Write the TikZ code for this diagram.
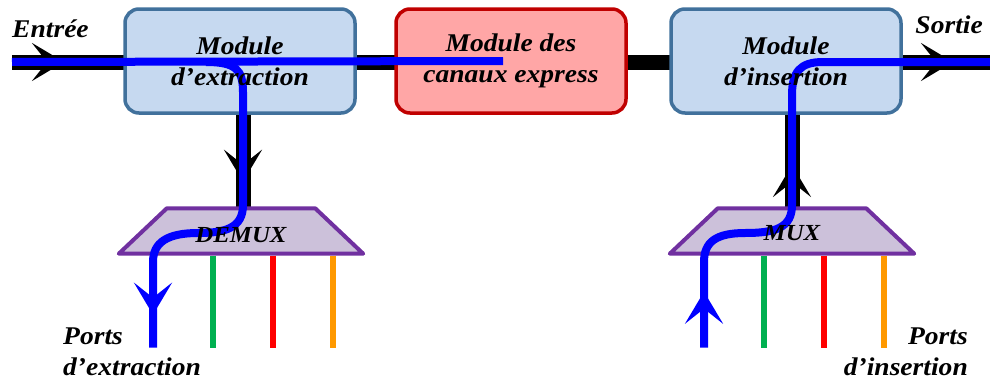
\documentclass[tikz,border=0pt]{standalone}
\usepackage{fontspec}
\setmainfont{Liberation Serif}[FakeStretch=1.08]
\usetikzlibrary{arrows.meta,decorations.markings,calc}
\definecolor{modfill}{HTML}{C6D9F0}
\definecolor{modline}{HTML}{41719C}
\definecolor{expfill}{HTML}{FFA6A6}
\definecolor{expline}{HTML}{C00000}
\definecolor{muxfill}{HTML}{CCC1DA}
\definecolor{muxline}{HTML}{7030A0}
\definecolor{pgreen}{HTML}{00B050}
\definecolor{pred}{HTML}{FF0000}
\definecolor{porange}{HTML}{FF9900}
\tikzset{
  dart/.tip={Stealth[length=32pt,width=38pt,inset=15pt]},
  arrowat/.style={postaction=decorate,decoration={markings,mark=at position #1 with {\arrow{dart}}}},
  module/.style={draw=modline,fill=modfill,line width=3.5pt,rounded corners=14pt,minimum width=230pt,minimum height=104pt},
  express/.style={module,draw=expline,fill=expfill},
  muxbox/.style={minimum width=244pt,minimum height=45pt,inner sep=0pt},
  muxshape/.style={draw=muxline,fill=muxfill,line width=4pt,line join=round},
  txt/.style={font=\fontsize{25.5}{31}\selectfont\bfseries\itshape,align=center,inner sep=0pt},
  smalltxt/.style={txt,font=\fontsize{23}{28}\selectfont\bfseries\itshape},
  fibre/.style={line width=15pt,black},
  lambda/.style={line width=8pt,blue},
  port/.style={line width=6pt}
}
\begin{document}
\begin{tikzpicture}[x=1pt,y=-1pt]
\useasboundingbox (0,0) rectangle (990,380);
% main fibre
\coordinate (in) at (12,62);
\coordinate (out) at (990,62);
\draw[fibre,postaction=decorate,decoration={markings,
  mark=at position 52pt with {\arrow{dart}},
  mark=at position -37pt with {\arrow{dart}}}] (in) -- (out);

% modules
\node[module] (extr) at (240,61) {};
\node[express] (expr) at (511,61) {};
\node[module] (ins) at (786,61) {};

% drop / add fibres
\draw[fibre,arrowat=67pt] (extr.south -| 243,0) -- (243,215);
\draw[fibre,arrowat=50pt] (792,215) -- (ins.south -| 792,0);

% (de)multiplexers
\node[muxbox] (demux) at (241,231) {};
\node[muxbox] (mux) at (792,231) {};
\foreach \tr in {demux,mux}
  \draw[muxshape] (\tr.south west) -- (\tr.south east)
    -- ($(\tr.north east)+(-48,0)$) -- ($(\tr.north west)+(48,0)$) -- cycle;

% ports
\foreach \tr in {demux,mux}
  \foreach \dx/\col in {-28/pgreen,32/pred,92/porange}
    \draw[port,\col] ($(\tr.south)+(\dx,2)$) -- ++(0,92);
\coordinate (dropport) at ($(demux.south)+(-88,94)$);
\coordinate (addport) at ($(mux.south)+(-88,94)$);

% wavelengths
\draw[lambda] (in) -- ($(expr.center)+(-8,0)$);
\draw[lambda,arrowat=-33pt] (206,62) .. controls (236,62) and (243,70) .. (243,92)
  -- (243,205) .. controls (243,228) and (225,233) .. (198,233)
  .. controls (168,233) and (153,242) .. (153,262) -- (dropport);
\draw[lambda,arrowat=56pt] (addport) -- (704,262)
  .. controls (704,242) and (716,233) .. (745,233)
  .. controls (775,233) and (792,228) .. (792,205) -- (792,95)
  .. controls (792,72) and (800,62) .. (823,62) -- (out);

% texts
\node[txt] (extrtxt) at (extr) {Module\\d’extraction};
\node[txt] (exprtxt) at (expr) {Module des\\canaux express};
\node[txt] (instxt) at (ins) {Module\\d’insertion};
\node[smalltxt,anchor=base] (demuxtxt) at ($(demux.center)+(0,11)$) {DEMUX};
\node[smalltxt,anchor=base] (muxtxt) at ($(mux.center)+(0,9)$) {MUX};
\node[txt,anchor=base west] (entree) at (12,37) {Entrée};
\node[txt,anchor=base east] (sortie) at (983,33) {Sortie};
\node[txt,align=left,anchor=base west] (extrports) at (63,375) {Ports\\d’extraction};
\node[txt,align=right,anchor=base east] (insports) at (968,375) {Ports\\d’insertion};
\end{tikzpicture}
\end{document}
